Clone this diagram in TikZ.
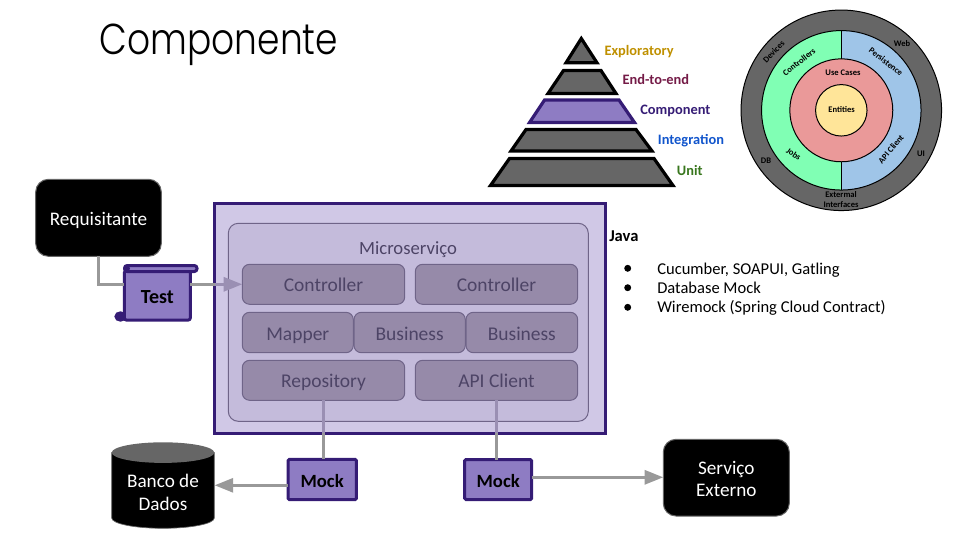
\documentclass[tikz,border=0pt]{standalone}
\usepackage{fontspec}
\setmainfont{Carlito}
\newfontfamily\titlefont{Poppins Light}
\usetikzlibrary{arrows.meta,calc}
\definecolor{purp}{HTML}{351C75}
\definecolor{purpfill}{HTML}{8E7CC3}
\definecolor{outerfill}{HTML}{D0C8E6}
\definecolor{innerfill}{HTML}{C4BBDB}
\definecolor{partfill}{HTML}{968AA9}
\definecolor{parttext}{HTML}{4D4466}
\definecolor{partline}{HTML}{6F6488}
\definecolor{conn}{HTML}{999999}
\definecolor{connin}{HTML}{9A8FB3}
\definecolor{tier}{HTML}{666666}
\definecolor{lblgold}{HTML}{BF9000}
\definecolor{lblwine}{HTML}{741B47}
\definecolor{lblblue}{HTML}{1155CC}
\definecolor{lblgreen}{HTML}{38761D}
\definecolor{ringgreen}{HTML}{80FFB4}
\definecolor{ringblue}{HTML}{9FC5E8}
\definecolor{ringred}{HTML}{EA9999}
\definecolor{ringyellow}{HTML}{FFE599}
\tikzset{
  x=0.75pt,y=-0.75pt,
  sz/.style 2 args={minimum width=#1*0.75pt,minimum height=#2*0.75pt},
  part/.style={draw=partline,line width=0.75pt,outer sep=0pt,fill=partfill,rounded corners=5.5pt,text=parttext,font=\fontsize{14.6}{16}\selectfont,text height=11.5pt,text depth=0pt,inner sep=0pt,anchor=north west},
  blackbox/.style={draw=tier,line width=0.75pt,outer sep=0pt,fill=black,rounded corners=9.5pt,text=white,align=center,font=\fontsize{14.4}{16.8}\selectfont,inner sep=0pt,anchor=north west},
  mockbox/.style={draw=purp,line width=2.25pt,outer sep=0pt,fill=purpfill,rounded corners=1pt,font=\bfseries\fontsize{14}{16}\selectfont,text height=12pt,text depth=0.2pt,inner sep=0pt,anchor=north west},
  conline/.style={draw=conn,line width=2.25pt},
  conarrow/.style={draw=conn,line width=2.25pt,-{Triangle[length=14pt,width=10.5pt]}},
  coninner/.style={draw=connin,line width=2.25pt},
  tierface/.style={draw=black,line width=2.4pt,fill=tier,line join=miter},
  tierhi/.style={draw=purp,line width=2.4pt,fill=purpfill,line join=miter},
  tierlabel/.style={anchor=base west,font=\bfseries\fontsize{10.8}{12}\selectfont,inner sep=0pt},
  ring/.style={draw=black,line width=0.75pt},
  ringtext/.style={font=\bfseries\fontsize{6.4}{7.2}\selectfont,inner sep=0pt,text=black,align=center},
  notetext/.style={anchor=base west,font=\fontsize{12.4}{14}\selectfont,inner sep=0pt},
  bulletdot/.style={circle,fill=black,inner sep=0pt,minimum size=5.2pt},
}
\begin{document}
\begin{tikzpicture}
\useasboundingbox (0,0) rectangle (960,540);
% title
\node[font=\titlefont\fontsize{27}{32}\selectfont,inner sep=0pt,yscale=1.2] (title) at (219,45) {Componente};
% pyramid
\draw[tierface] (581.3,38.5) -- (597,62.8) -- (566,62.8) -- cycle;
\draw[tierface] (563.5,70.5) -- (601,70.5) -- (616,93.5) -- (548,93.5) -- cycle;
\draw[tierhi] (544.5,100) -- (619,100) -- (634.5,122.5) -- (529.5,122.5) -- cycle;
\draw[tierface] (526,129.5) -- (636,129.5) -- (652,151) -- (511,151) -- cycle;
\draw[tierface] (509.5,158.5) -- (654,158.5) -- (673,185.5) -- (490.5,185.5) -- cycle;
\node[tierlabel,text=lblgold] (t1) at (604.3,55.5) {Exploratory};
\node[tierlabel,text=lblwine] (t2) at (622.3,84.5) {End-to-end};
\node[tierlabel,text=purp] (t3) at (640,114) {Component};
\node[tierlabel,text=lblblue] (t4) at (657.7,144) {Integration};
\node[tierlabel,text=lblgreen] (t5) at (676.7,175.5) {Unit};
% rings
\coordinate (rc) at (841.3,110.3);
\fill[tier,draw=black,line width=0.75pt] (rc) circle[radius=75.2pt];
\begin{scope}
\clip (rc) ++(-120,-120) rectangle (841.3,240);
\fill[ringgreen] (rc) circle[radius=59.8pt];
\end{scope}
\begin{scope}
\clip (841.3,-20) rectangle (970,240);
\fill[ringblue] (rc) circle[radius=59.8pt];
\end{scope}
\draw[ring] (rc) circle[radius=59.8pt];
\draw[ring] (841.3,30.6) -- (841.3,190);
\draw[ring,fill=ringred] (rc) circle[radius=38.6pt];
\draw[ring,fill=ringyellow] (rc) circle[radius=19.3pt];
\node[ringtext] (r1) at (841.6,110) {Entities};
\node[ringtext] (r2) at (843,73) {Use Cases};
\node[ringtext,rotate=47] (r3) at (773.7,51.7) {Devices};
\node[ringtext,rotate=38] (r4) at (799,62) {Controllers};
\node[ringtext] (r5) at (902,43.3) {Web};
\node[ringtext,rotate=-38] (r6) at (886,61.7) {Persistence};
\node[ringtext,rotate=-35] (r7) at (793.7,154) {Jobs};
\node[ringtext,rotate=50] (r8) at (891,149) {API Client};
\node[ringtext] (r9) at (766,160.7) {DB};
\node[ringtext] (r10) at (921,153.7) {UI};
\node[ringtext] (r11) at (841,199.5) {Extermal\\[0.6pt]Interfaces};
% micro service frames
\node[draw=purp,line width=2.25pt,outer sep=0pt,fill=outerfill,anchor=north west,inner sep=0pt,sz={390.5}{230}] (outer) at (214.5,203) {};
\node[draw=partline,line width=0.75pt,outer sep=0pt,fill=innerfill,rounded corners=7.5pt,anchor=north west,inner sep=0pt,sz={360}{198}] (inner) at (228.3,223.3) {};
\node[anchor=base,text=parttext,font=\fontsize{14}{16}\selectfont,inner sep=0pt] (ms) at (408,254) {Microserviço};
\node[part,sz={162.4}{40}] (c1) at (242.3,264.3) {Controller};
\node[part,sz={162.4}{40}] (c2) at (415.3,264.3) {Controller};
\node[part,sz={111}{40.4}] (map) at (242.3,312.3) {Mapper};
\node[part,sz={111.3}{40.4}] (b1) at (354,312.3) {Business};
\node[part,sz={111.7}{40.4}] (b2) at (466,312.3) {Business};
\node[part,sz={162.4}{40}] (repo) at (242.3,360.3) {Repository};
\node[part,sz={162.4}{40}] (api) at (415.3,360.3) {API Client};
% actors
\node[blackbox,sz={125.6}{77},text height=11pt,text depth=0.2pt] (req) at (35.7,179.3) {Requisitante};
\node[blackbox,sz={126}{76.7}] (serv) at (663.3,439.3) {\rule{0pt}{12pt}Serviço\\Externo};
% database
\fill[black,draw=tier,line width=0.5pt] (111.7,452.5) -- (111.7,518) arc[start angle=180,end angle=360,x radius=51.3,y radius=-10.3] -- (214.3,452.5) -- cycle;
\fill[tier] (163,452.6) ellipse[x radius=51.3,y radius=10.3];
\node[inner sep=0pt,minimum width=76.95pt,text=white,align=center,font=\fontsize{14.4}{16.8}\selectfont] (db) at (163,492.3) {Banco de\\Dados};
% mocks
\node[mockbox,sz={68.3}{40.4}] (m1) at (288,459.3) {Mock};
\node[mockbox,sz={67}{40}] (m2) at (464.7,459.5) {Mock};
% test scroll
\draw[purp,line width=1pt,fill=purp] (120.5,316.5) ellipse[x radius=5.5,y radius=4.5];
\node[mockbox,rounded corners=1.5pt,sz={66}{49},font=\bfseries\fontsize{15}{16}\selectfont] (test) at (124.3,271) {Test};
\draw[draw=purp,line width=2.25pt,fill=purpfill,rounded corners=2pt] (124.5,265.5) rectangle (197,271.5);
\fill[purp] (127,268.5) circle[radius=3];
% connectors
\coordinate (tin) at (test.east |- c1.west);
\coordinate (tout) at (test.west |- c1.west);
\coordinate (edgein) at (outer.west |- c1.west);
\draw[conline] (req.south) |- (tout);
\draw[conline] (tin) -- (edgein);
\draw[draw=connin,line width=2.25pt,-{Triangle[length=14pt,width=10.5pt]}] (edgein) -- (c1.west);
\draw[coninner] (repo.south) -- (repo.south |- outer.south);
\draw[conline] (repo.south |- outer.south) -- (repo.south |- m1.north);
\draw[coninner] (api.south) -- (api.south |- outer.south);
\draw[conline] (api.south |- outer.south) -- (api.south |- m2.north);
\coordinate (m1out) at (m1.west |- 0,485.3);
\coordinate (m2out) at (m2.east |- 0,477.3);
\draw[conarrow] (m1out) -- (m1out -| db.east);
\draw[conarrow] (m2out) -- (m2out -| serv.west);
% notes
\node[anchor=base west,font=\bfseries\fontsize{12.4}{14}\selectfont,inner sep=0pt] (java) at (609,241.7) {Java};
\node[bulletdot] (d1) at (627.7,268.3) {};
\node[bulletdot] (d2) at (627.7,287.7) {};
\node[bulletdot] (d3) at (627.7,307.3) {};
\node[notetext] (n1) at (657,274) {Cucumber, SOAPUI, Gatling};
\node[notetext] (n2) at (657,293.4) {Database Mock};
\node[notetext] (n3) at (657,312.4) {Wiremock (Spring Cloud Contract)};
\end{tikzpicture}
\end{document}
